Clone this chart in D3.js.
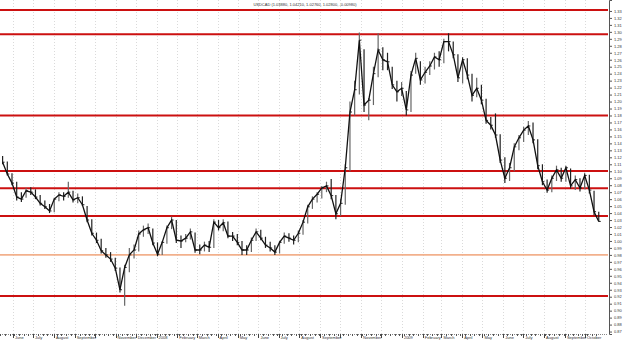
<!DOCTYPE html>
<html>
<head>
<meta charset="utf-8">
<script src="https://cdn.jsdelivr.net/npm/d3@7"></script>
<style>
  body { margin: 0; background: #fff; }
  svg { display: block; font-family: "Liberation Sans", Arial, sans-serif; }
</style>
</head>
<body>
<div id="chart"></div>
<script>
// weekly USDCAD bars, first week starts Mon 14 May 2007
const firstWeek = new Date(2007, 4, 14);

const weekHigh = [
  1.122, 1.114, 1.097, 1.085, 1.070, 1.076, 1.077, 1.074, 1.066, 1.058,
  1.053, 1.062, 1.070, 1.070, 1.085, 1.072, 1.068, 1.064, 1.050, 1.031,
  1.012, 1.003, 0.990, 0.984, 0.976, 0.962, 0.966, 0.990, 0.995, 1.015,
  1.022, 1.025, 1.018, 0.998, 1.000, 1.022, 1.035, 1.030, 1.008, 1.010,
  1.018, 1.012, 0.995, 0.999, 1.000, 1.031, 1.030, 1.031, 1.028, 1.013,
  1.010, 1.000, 0.994, 1.005, 1.018, 1.016, 1.006, 0.999, 0.994, 1.000,
  1.012, 1.011, 1.008, 1.015, 1.030, 1.052, 1.064, 1.070, 1.079, 1.085,
  1.089, 1.066, 1.060, 1.110, 1.200, 1.230, 1.299, 1.275, 1.205, 1.250,
  1.298, 1.278, 1.270, 1.250, 1.230, 1.228, 1.215, 1.244, 1.270, 1.258,
  1.250, 1.258, 1.270, 1.272, 1.290, 1.298, 1.286, 1.268, 1.264, 1.262,
  1.240, 1.234, 1.224, 1.204, 1.178, 1.183, 1.153, 1.120, 1.112, 1.140,
  1.152, 1.164, 1.172, 1.170, 1.146, 1.110, 1.088, 1.094, 1.108, 1.105,
  1.108, 1.104, 1.094, 1.090, 1.098, 1.095, 1.072, 1.042
];
const weekLow = [
  1.110, 1.094, 1.080, 1.058, 1.056, 1.062, 1.066, 1.060, 1.051, 1.046,
  1.040, 1.041, 1.057, 1.058, 1.062, 1.055, 1.054, 1.050, 1.027, 1.008,
  0.997, 0.982, 0.976, 0.970, 0.957, 0.926, 0.907, 0.955, 0.975, 0.985,
  1.006, 1.010, 0.994, 0.978, 0.980, 0.996, 1.017, 0.997, 0.990, 0.998,
  1.002, 0.983, 0.981, 0.985, 0.984, 0.990, 1.015, 1.014, 1.004, 1.000,
  0.994, 0.980, 0.980, 0.984, 1.000, 1.001, 0.990, 0.985, 0.980, 0.982,
  0.996, 0.999, 0.995, 0.998, 1.009, 1.025, 1.046, 1.055, 1.061, 1.070,
  1.060, 1.031, 1.036, 1.052, 1.100, 1.180, 1.210, 1.185, 1.173, 1.195,
  1.235, 1.245, 1.245, 1.218, 1.200, 1.208, 1.180, 1.185, 1.240, 1.224,
  1.226, 1.238, 1.246, 1.250, 1.255, 1.272, 1.262, 1.228, 1.226, 1.232,
  1.200, 1.206, 1.196, 1.168, 1.160, 1.148, 1.112, 1.083, 1.086, 1.100,
  1.130, 1.142, 1.152, 1.140, 1.103, 1.080, 1.069, 1.070, 1.086, 1.085,
  1.085, 1.075, 1.073, 1.071, 1.074, 1.068, 1.037, 1.028
];
const weekClose = [
  1.113, 1.096, 1.083, 1.063, 1.060, 1.072, 1.070, 1.063, 1.054, 1.049,
  1.043, 1.060, 1.066, 1.064, 1.070, 1.059, 1.062, 1.052, 1.030, 1.011,
  1.001, 0.986, 0.980, 0.974, 0.961, 0.930, 0.962, 0.980, 0.987, 1.010,
  1.016, 1.019, 0.997, 0.981, 0.998, 1.019, 1.030, 1.001, 1.000, 1.004,
  1.013, 0.987, 0.987, 0.994, 0.991, 1.027, 1.019, 1.026, 1.007, 1.007,
  0.998, 0.987, 0.987, 1.001, 1.013, 1.004, 0.994, 0.990, 0.984, 0.998,
  1.007, 1.004, 1.001, 1.011, 1.027, 1.049, 1.060, 1.067, 1.076, 1.079,
  1.065, 1.039, 1.054, 1.105, 1.185, 1.217, 1.288, 1.195, 1.202, 1.240,
  1.274, 1.260, 1.257, 1.224, 1.214, 1.219, 1.188, 1.238, 1.262, 1.231,
  1.242, 1.251, 1.264, 1.260, 1.286, 1.286, 1.267, 1.234, 1.260, 1.238,
  1.209, 1.219, 1.202, 1.173, 1.166, 1.152, 1.116, 1.090, 1.105, 1.135,
  1.148, 1.159, 1.165, 1.145, 1.108, 1.085, 1.073, 1.090, 1.102, 1.090,
  1.105, 1.079, 1.088, 1.076, 1.094, 1.073, 1.042, 1.028
];

// support / resistance lines
const redLevels = [1.3314, 1.2965, 1.18, 1.1004, 1.0756, 1.0358, 0.921];
const orangeLevels = [0.98];

// month labels shown under the axis (October 2007 and 2008 are not labelled)
const monthLabels = [
  ["2007-06-01", "June"], ["2007-07-01", "July"],
  ["2007-08-01", "August"], ["2007-09-01", "September"], ["2007-11-01", "November"],
  ["2007-12-01", "December"], ["2008-01-01", "2008"], ["2008-02-01", "February"],
  ["2008-03-01", "March"], ["2008-04-01", "April"], ["2008-05-01", "May"],
  ["2008-06-01", "June"], ["2008-07-01", "July"], ["2008-08-01", "August"],
  ["2008-09-01", "September"], ["2008-11-01", "November"], ["2009-01-01", "2009"],
  ["2009-02-01", "February"], ["2009-03-01", "March"], ["2009-04-01", "April"],
  ["2009-05-01", "May"], ["2009-06-01", "June"], ["2009-07-01", "July"],
  ["2009-08-01", "August"], ["2009-09-01", "September"], ["2009-10-01", "October"]
];

const title = "USDCAD (1.03880, 1.04210, 1.02760, 1.02800, -0.00980)";

let width = 625,
    height = 340,
    plotRight = 608,
    plotBottom = 334;

const parse = d3.timeParse("%Y-%m-%d");

const bars = weekClose.map(function(c, i) {
  let d = d3.timeWeek.offset(firstWeek, i);
  return { date: d3.timeHour.offset(d, 60), high: weekHigh[i], low: weekLow[i], close: c };
});

const x = d3.scaleTime()
  .domain([new Date(2007, 5, 1), new Date(2009, 9, 1)])
  .range([13, 585]);

const y = d3.scaleLinear()
  .domain([0.8665, 1.3457])
  .range([plotBottom, 0]);

const svg = d3.select('#chart')
  .append('svg')
  .attr('width', width)
  .attr('height', height);

// month gridlines
const months = d3.timeMonth.range(new Date(2007, 4, 1), new Date(2009, 10, 1));
svg.append('g')
  .selectAll('line')
  .data(months)
  .enter().append('line')
  .attr('x1', d => Math.round(x(d)) + 0.5)
  .attr('x2', d => Math.round(x(d)) + 0.5)
  .attr('y1', 0)
  .attr('y2', plotBottom)
  .attr('stroke', '#dadada')
  .attr('stroke-width', 1)
  .attr('stroke-dasharray', '1,2');

// horizontal levels
svg.append('g')
  .selectAll('line')
  .data(orangeLevels)
  .enter().append('line')
  .attr('x1', 0).attr('x2', plotRight)
  .attr('y1', d => y(d)).attr('y2', d => y(d))
  .attr('stroke', '#f2b08c')
  .attr('stroke-width', 1.6);

svg.append('g')
  .selectAll('line')
  .data(redLevels)
  .enter().append('line')
  .attr('x1', 0).attr('x2', plotRight)
  .attr('y1', d => y(d)).attr('y2', d => y(d))
  .attr('stroke', '#cc1010')
  .attr('stroke-width', 2);

// price bars (high-low with close tick)
const barG = svg.append('g');
barG.selectAll('line.hl')
  .data(bars)
  .enter().append('line')
  .attr('class', 'hl')
  .attr('x1', d => x(d.date)).attr('x2', d => x(d.date))
  .attr('y1', d => y(d.high)).attr('y2', d => y(d.low))
  .attr('stroke', (d, i) => (i > 0 && d.close > bars[i - 1].close) ? '#666' : '#222')
  .attr('stroke-width', 1.2);

barG.selectAll('line.cl')
  .data(bars)
  .enter().append('line')
  .attr('class', 'cl')
  .attr('x1', d => x(d.date)).attr('x2', d => x(d.date) + 2)
  .attr('y1', d => y(d.close)).attr('y2', d => y(d.close))
  .attr('stroke', '#222')
  .attr('stroke-width', 1);

barG.append('path')
  .datum(bars)
  .attr('fill', 'none')
  .attr('stroke', '#111')
  .attr('stroke-width', 1.3)
  .attr('d', d3.line().x(d => x(d.date)).y(d => y(d.close)));

// title
svg.append('text')
  .attr('x', 305)
  .attr('y', 6)
  .attr('text-anchor', 'middle')
  .attr('font-size', 4)
  .attr('fill', '#333')
  .text(title);

// y axis on the right
const yAxis = d3.axisRight(y)
  .tickValues(d3.range(87, 134).map(v => v / 100))
  .tickFormat(d3.format('.2f'))
  .tickSize(3)
  .tickPadding(2);

const yg = svg.append('g')
  .attr('transform', 'translate(' + (plotRight + 1) + ',0)')
  .call(yAxis);
yg.select('.domain').attr('stroke', '#555');
yg.selectAll('.tick line').attr('stroke', '#555');
yg.selectAll('text').attr('font-size', 4).attr('fill', '#333');

// x axis: weekly small ticks, month ticks, labels
const xg = svg.append('g')
  .attr('transform', 'translate(0,' + plotBottom + ')');
xg.append('line')
  .attr('x1', 0).attr('x2', plotRight)
  .attr('y1', 0.5).attr('y2', 0.5)
  .attr('stroke', '#888')
  .attr('stroke-dasharray', '1,1');
xg.selectAll('line.wk')
  .data(d3.timeWeek.range(new Date(2007, 4, 1), new Date(2009, 9, 25)))
  .enter().append('line')
  .attr('class', 'wk')
  .attr('x1', d => Math.round(x(d)) + 0.5).attr('x2', d => Math.round(x(d)) + 0.5)
  .attr('y1', 0).attr('y2', 2)
  .attr('stroke', '#555');
xg.selectAll('line.mo')
  .data(months)
  .enter().append('line')
  .attr('class', 'mo')
  .attr('x1', d => Math.round(x(d)) + 0.5).attr('x2', d => Math.round(x(d)) + 0.5)
  .attr('y1', 0).attr('y2', 4)
  .attr('stroke', '#444');
xg.selectAll('text')
  .data(monthLabels)
  .enter().append('text')
  .attr('x', d => x(parse(d[0])) + 2)
  .attr('y', 5)
  .attr('font-size', 4)
  .attr('fill', '#333')
  .text(d => d[1]);
</script>
</body>
</html>
